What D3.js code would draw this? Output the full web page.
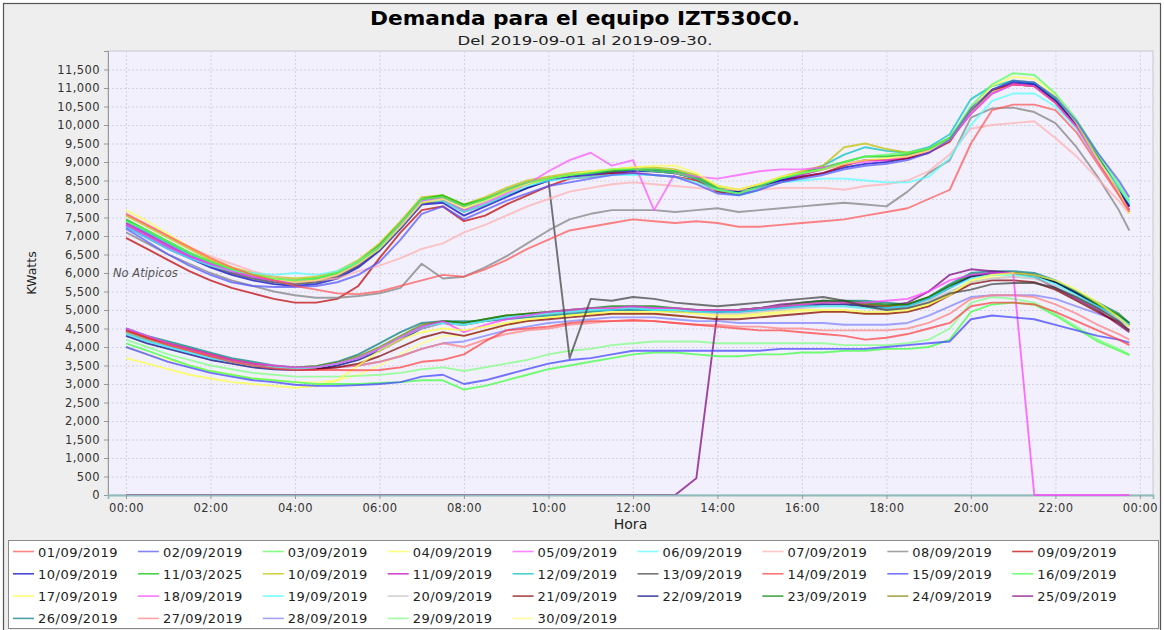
<!DOCTYPE html>
<html><head><meta charset="utf-8">
<script src="https://cdn.jsdelivr.net/npm/d3@7"></script>
<style>body{margin:0;background:#fff}svg{display:block}text{font-family:"DejaVu Sans",sans-serif}</style>
</head><body><svg id="c" width="1164" height="630"></svg>
<script>
const horas = ["00:00","00:30","01:00","01:30","02:00","02:30","03:00","03:30","04:00","04:30","05:00","05:30","06:00","06:30","07:00","07:30","08:00","08:30","09:00","09:30","10:00","10:30","11:00","11:30","12:00","12:30","13:00","13:30","14:00","14:30","15:00","15:30","16:00","16:30","17:00","17:30","18:00","18:30","19:00","19:30","20:00","20:30","21:00","21:30","22:00","22:30","23:00","23:30","23:45"];

const fechas = ["01/09/2019","02/09/2019","03/09/2019","04/09/2019","05/09/2019","06/09/2019","07/09/2019","08/09/2019","09/09/2019",
"10/09/2019","11/03/2025","10/09/2019","11/09/2019","12/09/2019","13/09/2019","14/09/2019","15/09/2019","16/09/2019",
"17/09/2019","18/09/2019","19/09/2019","20/09/2019","21/09/2019","22/09/2019","23/09/2019","24/09/2019","25/09/2019",
"26/09/2019","27/09/2019","28/09/2019","29/09/2019","30/09/2019"];

const colores = ["#ff5555","#5555ff","#55ff55","#ffff55","#ff55ff","#55ffff","#ffafaf","#808080","#c00000","#0000c0","#00c000","#c0c000","#c000c0","#00c0c0","#404040","#ff4040","#4040ff","#40ff40","#ffff40","#ff40ff","#40ffff","#c0c0c0","#800000","#000080","#008000","#808000","#800080","#008080","#ff8080","#8080ff","#80ff80","#ffff80"];

const yTicks = [0,500,1000,1500,2000,2500,3000,3500,4000,4500,5000,5500,6000,6500,7000,7500,8000,8500,9000,9500,10000,10500,11000,11500];
const xTickHoras = [0,2,4,6,8,10,12,14,16,18,20,22,24];
const xTickLabels = ["00:00","02:00","04:00","06:00","08:00","10:00","12:00","14:00","16:00","18:00","20:00","22:00","00:00"];

const s01 = [7600,7300,7000,6700,6400,6150,5950,5800,5650,5550,5450,5430,5500,5650,5800,5950,5900,6100,6350,6650,6900,7150,7250,7350,7450,7400,7350,7400,7350,7250,7250,7300,7350,7400,7450,7550,7650,7750,8000,8250,9500,10400,10550,10550,10400,9800,8950,8100,7650];
const s02 = [7200,6850,6500,6200,5950,5750,5650,5620,5620,5650,5750,5950,6300,6900,7600,7800,7450,7700,7950,8150,8350,8450,8550,8650,8700,8650,8600,8400,8150,8100,8250,8450,8550,8650,8800,8900,8950,9050,9250,9600,10400,10950,11200,11150,10750,10100,9250,8500,8050];
const s03 = [7400,7150,6850,6550,6300,6100,5950,5850,5800,5850,6000,6300,6700,7350,8000,8050,7800,8000,8250,8450,8550,8650,8700,8800,8800,8750,8700,8550,8250,8150,8350,8550,8700,8800,9000,9150,9200,9250,9350,9650,10500,11100,11400,11350,10850,10150,9250,8400,7950];
const s04 = [7700,7400,7050,6700,6400,6150,5950,5850,5750,5800,5950,6250,6650,7250,7900,8000,7750,7950,8200,8400,8550,8650,8750,8800,8850,8900,8900,8700,8350,8250,8400,8600,8700,8800,8950,9050,9100,9150,9300,9600,10400,11050,11300,11250,10800,10050,9100,8200,7600];
const s05 = [7300,7000,6700,6450,6250,6050,5900,5800,5750,5800,5950,6250,6700,7300,7950,8000,7700,7900,8150,8400,8750,9050,9250,8900,9050,7700,8700,8600,8550,8650,8750,8800,8800,8850,8950,9000,9050,9150,9300,9600,10300,10850,11100,11050,10600,9950,9050,8150,7700];
const s06 = [7250,6950,6650,6400,6200,6050,6000,5950,6000,5950,6050,6300,6700,7300,7950,7950,7650,7850,8100,8350,8500,8550,8600,8650,8650,8650,8600,8450,8250,8150,8300,8450,8500,8550,8550,8500,8450,8450,8600,9100,10000,10650,10850,10850,10500,9900,9050,8300,7900];
const s07 = [7600,7300,7000,6700,6450,6250,6050,5900,5800,5800,5850,6050,6200,6400,6650,6800,7100,7300,7550,7800,8000,8200,8300,8400,8450,8400,8350,8300,8250,8250,8250,8300,8300,8300,8250,8350,8400,8500,8750,9200,9900,10000,10050,10100,9650,9150,8550,7950,7600];
const s08 = [7100,6800,6500,6250,6000,5800,5650,5500,5400,5330,5330,5380,5450,5600,6250,5850,5900,6150,6450,6800,7150,7450,7600,7700,7700,7700,7650,7700,7750,7650,7700,7750,7800,7850,7900,7850,7800,8200,8700,9050,10200,10450,10470,10350,10050,9400,8600,7700,7150];
const s09 = [6950,6650,6350,6050,5800,5600,5450,5300,5200,5200,5300,5650,6400,7100,7700,7800,7400,7550,7850,8100,8350,8550,8600,8700,8700,8650,8600,8500,8200,8150,8300,8450,8600,8700,8900,9050,9050,9100,9250,9550,10400,10950,11100,11050,10600,9950,9050,8200,7700];
const s10 = [7250,6950,6650,6400,6150,5950,5800,5700,5650,5700,5850,6150,6600,7200,7850,7900,7550,7800,8050,8300,8500,8600,8650,8700,8750,8750,8700,8550,8250,8200,8350,8500,8600,8700,8850,8950,9000,9100,9250,9600,10450,10950,11150,11100,10650,10000,9100,8250,7800];
const s11 = [7450,7150,6850,6550,6300,6100,5950,5850,5800,5850,6000,6300,6750,7350,8000,8100,7850,8000,8200,8400,8550,8650,8700,8750,8800,8800,8750,8600,8300,8200,8350,8550,8700,8850,9000,9150,9150,9200,9350,9650,10400,10950,11200,11150,10700,10050,9150,8250,7800];
const s12 = [7550,7250,6950,6650,6350,6150,6000,5900,5850,5900,6050,6350,6800,7400,8050,8100,7850,8050,8300,8500,8600,8700,8750,8800,8850,8850,8800,8650,8350,8250,8400,8600,8750,8900,9400,9500,9350,9250,9350,9650,10350,10900,11100,11050,10600,9950,9050,8150,7650];
const s13 = [7350,7050,6750,6450,6250,6050,5900,5800,5750,5800,5950,6250,6700,7350,8000,8050,7800,8000,8250,8450,8550,8650,8700,8750,8800,8750,8700,8550,8250,8150,8300,8500,8650,8800,8950,9050,9050,9150,9300,9600,10300,10850,11100,11050,10650,10000,9100,8250,7800];
const s14 = [7400,7100,6800,6500,6250,6050,5900,5800,5750,5800,5950,6250,6700,7300,7950,8000,7700,7950,8200,8400,8550,8650,8700,8750,8800,8750,8700,8550,8200,8100,8250,8550,8700,8900,9200,9400,9300,9250,9400,9750,10700,11050,11200,11100,10700,10050,9150,8300,7850];
const s15 = [7300,7000,6700,6450,6200,6000,5850,5750,5700,5750,5900,6200,6650,7250,7900,7950,7650,7850,8100,8300,8500,3700,5300,5250,5350,5300,5200,5150,5100,5150,5200,5250,5300,5350,5250,5100,5000,5050,5200,5450,5550,5700,5730,5730,5600,5350,5050,4700,4450];
const s16 = [4450,4250,4050,3900,3750,3600,3500,3420,3380,3380,3380,3370,3380,3450,3600,3650,3800,4150,4450,4500,4550,4650,4700,4700,4730,4700,4650,4600,4550,4500,4450,4450,4400,4350,4300,4200,4250,4350,4500,4650,5100,5200,5200,5150,4950,4700,4450,4200,4050];
const s17 = [4000,3800,3600,3450,3300,3200,3100,3050,2980,2950,2950,2970,3000,3050,3200,3250,3000,3100,3250,3400,3550,3650,3700,3800,3900,3900,3900,3900,3900,3900,3900,3950,3950,3950,3950,3950,4000,4050,4100,4150,4750,4850,4800,4750,4600,4450,4300,4200,4120];
const s18 = [4100,3900,3700,3500,3350,3250,3150,3100,3050,3000,3000,3000,3030,3050,3100,3100,2850,2950,3100,3250,3400,3500,3600,3700,3800,3850,3850,3800,3750,3750,3800,3800,3850,3850,3900,3900,3950,3950,4000,4200,4950,5150,5200,5150,4850,4500,4150,3900,3780];
const s19 = [3700,3550,3400,3250,3150,3050,3000,2950,2900,2950,3100,3500,3900,4200,4400,4500,4450,4550,4650,4750,4800,4850,4900,4950,4950,4950,4950,4900,4850,4850,4900,4950,5000,5000,5000,4950,4950,5000,5150,5400,5800,5950,6000,5950,5800,5550,5200,4800,4550];
const s20 = [4500,4300,4100,3950,3800,3650,3550,3500,3450,3450,3550,3700,3950,4250,4550,4700,4400,4600,4750,4850,4950,5000,5050,5050,5100,5050,5050,5000,5000,5000,5050,5100,5150,5200,5200,5200,5250,5300,5500,5800,5950,6000,6000,0,0,0,0,0,0];
const s21 = [4350,4150,4000,3850,3700,3600,3500,3450,3420,3450,3550,3700,3950,4250,4550,4650,4600,4700,4800,4850,4900,4950,5000,5000,5050,5000,5000,4950,4950,4950,5000,5050,5100,5100,5100,5050,5050,5100,5300,5600,5850,5950,5950,5900,5700,5400,5100,4800,4600];
const s22 = [4400,4200,4050,3900,3750,3600,3500,3450,3400,3450,3550,3700,3950,4250,4500,4650,4600,4700,4800,4850,4900,4950,5000,5050,5050,5050,5000,4950,4900,4900,4950,5000,5050,5100,5100,5050,5000,5050,5250,5500,5750,5850,5900,5850,5650,5350,5050,4750,4550];
const s23 = [4450,4250,4100,3950,3800,3650,3550,3450,3400,3400,3450,3550,3750,4000,4250,4400,4300,4450,4600,4700,4750,4800,4850,4900,4900,4900,4850,4800,4750,4750,4800,4850,4900,4950,4950,4900,4900,4950,5100,5400,5700,5800,5800,5750,5550,5250,4950,4650,4450];
const s24 = [4300,4100,3950,3800,3650,3550,3450,3400,3380,3400,3500,3650,3900,4200,4500,4650,4600,4700,4800,4850,4900,4950,5000,5000,5050,5050,5000,4950,4950,4950,5000,5050,5100,5150,5150,5100,5050,5100,5300,5600,5900,6000,6000,5950,5750,5450,5100,4800,4600];
const s25 = [4400,4200,4050,3900,3750,3600,3500,3450,3420,3450,3550,3700,3950,4250,4550,4700,4650,4750,4850,4900,4950,5000,5050,5100,5100,5100,5050,5000,5000,5000,5050,5100,5200,5250,5250,5200,5150,5150,5350,5650,5950,6000,6000,5950,5750,5450,5150,4850,4650];
const s26 = [4450,4250,4100,3950,3800,3650,3550,3480,3450,3480,3580,3750,4000,4300,4600,4700,4650,4750,4850,4900,4950,5000,5050,5050,5100,5050,5050,5000,5000,5000,5050,5100,5150,5200,5200,5150,5100,5150,5350,5650,5900,6000,6000,5950,5750,5450,5150,4850,4600];
const s27 = [0,0,0,0,0,0,0,0,0,0,0,0,0,0,0,0,0,0,0,0,0,0,0,0,0,0,0,450,4950,5000,5050,5150,5200,5250,5200,5150,5100,5200,5500,5950,6100,6050,6000,5900,5600,5300,5000,4600,4400];
const s28 = [4500,4300,4150,4000,3850,3700,3600,3500,3450,3480,3600,3800,4100,4400,4650,4700,4700,4700,4750,4800,4850,4900,4950,5000,5000,5000,4950,4950,4950,5000,5050,5100,5150,5200,5250,5250,5200,5150,5350,5700,6000,6050,6050,6000,5800,5500,5200,4900,4650];
const s29 = [4400,4200,4050,3900,3750,3600,3500,3450,3400,3420,3450,3500,3600,3750,3950,4100,4000,4200,4350,4450,4500,4600,4650,4700,4700,4700,4650,4600,4600,4550,4550,4500,4500,4450,4450,4450,4450,4500,4650,4900,5300,5400,5400,5350,5150,4900,4600,4350,4200];
const s30 = [4350,4150,4000,3850,3700,3600,3500,3450,3420,3430,3450,3500,3600,3750,3950,4100,4150,4300,4450,4550,4650,4700,4750,4800,4800,4800,4750,4700,4700,4650,4650,4650,4650,4650,4600,4600,4600,4650,4850,5100,5350,5400,5400,5400,5300,5100,4900,4700,4600];
const s31 = [4200,4000,3800,3650,3500,3400,3300,3250,3200,3200,3200,3220,3250,3300,3400,3450,3350,3450,3550,3650,3800,3900,3950,4050,4100,4150,4150,4150,4100,4100,4100,4100,4100,4100,4050,4050,4050,4100,4200,4500,5200,5350,5300,5200,4900,4550,4200,3950,3800];
const s32 = [4000,3800,3650,3500,3350,3250,3150,3100,3050,3050,3100,3250,3500,3800,4100,4300,4300,4450,4600,4700,4800,4850,4900,4900,4900,4900,4850,4800,4800,4800,4850,4900,4950,4950,4950,4900,4900,4950,5150,5450,5750,5900,5950,5900,5750,5500,5200,4900,4650];

const series = [s01,s02,s03,s04,s05,s06,s07,s08,s09,s10,s11,s12,s13,s14,s15,s16,s17,s18,s19,s20,s21,s22,s23,s24,s25,s26,s27,s28,s29,s30,s31,s32];

const svg = d3.select("#c");
const FONT = '"DejaVu Sans", sans-serif';

// chart frame
svg.append("rect").attr("x",3.5).attr("y",3.5).attr("width",1157).attr("height",640)
  .attr("fill","#eeeeee").attr("stroke","#555").attr("stroke-width",1.2);

const P = {l:108, t:51, r:1153, b:495};
const x = d3.scaleLinear().domain([-0.426, 24.31]).range([P.l, P.r]);
const y = d3.scaleLinear().domain([0, 12000]).range([P.b, P.t]);
const hora = s => { const [h,m] = s.split(":").map(Number); return h + m/60; };
const xs = horas.map(hora);

// titles
svg.append("text").attr("x",585).attr("y",25).attr("text-anchor","middle")
  .attr("font-size",19).attr("font-weight","bold").attr("fill","#000")
  .attr("textLength",430).attr("lengthAdjust","spacingAndGlyphs")
  .text("Demanda para el equipo IZT530C0.");
svg.append("text").attr("x",585).attr("y",45).attr("text-anchor","middle")
  .attr("font-size",13).attr("fill","#222")
  .attr("textLength",255).attr("lengthAdjust","spacingAndGlyphs")
  .text("Del 2019-09-01 al 2019-09-30.");

// plot background
svg.append("rect").attr("x",P.l).attr("y",P.t).attr("width",P.r-P.l).attr("height",P.b-P.t)
  .attr("fill","#f1f0fc").attr("stroke","#c8c8d0").attr("stroke-width",1);

// grid
const g = svg.append("g");
g.selectAll("line.h").data(yTicks).join("line")
  .attr("x1",P.l).attr("x2",P.r).attr("y1",d=>y(d)+0.5).attr("y2",d=>y(d)+0.5)
  .attr("stroke","#d2d2e2").attr("stroke-dasharray","2,2");
g.selectAll("line.v").data(xTickHoras).join("line")
  .attr("x1",d=>x(d)+0.5).attr("x2",d=>x(d)+0.5).attr("y1",P.t).attr("y2",P.b)
  .attr("stroke","#d2d2e2").attr("stroke-dasharray","2,2");

// y axis
const yAxis = d3.axisLeft(y).tickValues(yTicks).tickFormat(d3.format(",")).tickSize(4).tickPadding(4);
const ya = svg.append("g").attr("transform",`translate(${P.l},0)`).call(yAxis);
ya.select(".domain").attr("stroke","#999");
ya.selectAll(".tick line").attr("stroke","#999");
ya.selectAll("text").attr("font-family",FONT).attr("font-size",11.5).attr("fill","#333").attr("letter-spacing","0.4px");

svg.append("text").attr("x",(P.l+P.r)/2).attr("y",529).attr("text-anchor","middle")
  .attr("font-size",14).attr("fill","#222").text("Hora");
svg.append("text").attr("transform",`translate(36,${(P.t+P.b)/2}) rotate(-90)`).attr("text-anchor","middle")
  .attr("font-size",12.5).attr("fill","#222").text("KWatts");

// lines (series 0 drawn on top)
svg.append("clipPath").attr("id","clip").append("rect")
  .attr("x",P.l).attr("y",P.t-2).attr("width",P.r-P.l).attr("height",P.b-P.t+3);
const line = d3.line().x((d,i)=>x(xs[i])).y(d=>y(d));
const lgBack = svg.append("g").attr("clip-path","url(#clip)");

// x axis sits between the back lines and the front lines
const xAxis = d3.axisBottom(x).tickValues(xTickHoras).tickFormat((d,i)=>xTickLabels[i]).tickSize(4).tickPadding(5);
const xa = svg.append("g").attr("transform",`translate(0,${P.b})`).call(xAxis);
xa.select(".domain").attr("stroke","#8fbcbc").attr("stroke-width",1.8);
xa.selectAll(".tick line").attr("stroke","#999");
xa.selectAll("text").attr("font-family",FONT).attr("font-size",11.5).attr("fill","#333").attr("letter-spacing","0.4px");

const lgFront = svg.append("g").attr("clip-path","url(#clip)");
const order = d3.range(series.length).reverse();
order.forEach(i=>{
  const target = i >= 26 ? lgBack : lgFront;
  target.append("path").attr("d",line(series[i]))
    .attr("fill","none").attr("stroke",colores[i]).attr("stroke-width",1.9)
    .attr("stroke-opacity",0.72).attr("stroke-linejoin","round");
});

// annotation
svg.append("text").attr("x",P.l+5).attr("y",y(6000)+4).attr("font-size",11.5)
  .attr("font-style","italic").attr("fill","#555").text("No Atipicos");

// legend
svg.append("rect").attr("x",8.5).attr("y",540.5).attr("width",1150).attr("height",88)
  .attr("fill","#fff").attr("stroke","#8a8a8a");
const leg = svg.append("g");
fechas.forEach((f,i)=>{
  const row = Math.floor(i/9), col = i%9;
  const tx = 38 + col*124.9, cy = 551.5 + row*22.3;
  leg.append("line").attr("x1",tx-25).attr("x2",tx-4).attr("y1",cy).attr("y2",cy)
    .attr("stroke",colores[i]).attr("stroke-width",1.6).attr("stroke-opacity",0.72);
  leg.append("text").attr("x",tx).attr("y",cy+5).attr("font-size",13).attr("fill","#222")
    .attr("letter-spacing","0.5px").text(f);
});
</script></body></html>
